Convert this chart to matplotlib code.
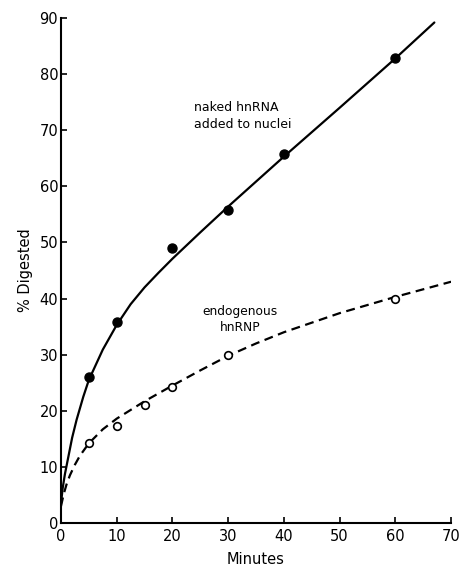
import matplotlib
matplotlib.use("Agg")
import matplotlib.pyplot as plt

# measured points
naked_t = [5, 10, 20, 30, 40, 60]
naked_pct = [26, 35.8, 49, 55.7, 65.8, 82.8]
endo_t = [5, 10, 15, 20, 30, 60]
endo_pct = [14.2, 17.3, 21, 24.2, 29.9, 39.9]

# fitted curves as drawn
naked_curve_t = [0, 0.3, 0.7, 1.2, 2, 2.8, 4, 5, 7.5, 10, 12.5, 15, 17.5, 20, 25, 30, 40, 50, 60, 67]
naked_curve_pct = [3.5, 6.2, 8.7, 11.2, 15.2, 18.4, 22.5, 25.5, 30.9, 35.3, 39.0, 42.0, 44.6, 47.1, 51.8, 56.4, 65.3, 74, 82.8, 89.2]
endo_curve_t = [0, 0.5, 1, 1.6, 2.5, 3.4, 5, 7.5, 10, 15, 20, 25, 30, 35, 40, 50, 60, 70]
endo_curve_pct = [3.0, 5.2, 6.9, 8.5, 10.4, 12.0, 14.2, 16.7, 18.6, 21.7, 24.5, 27.2, 29.8, 32.0, 34.0, 37.4, 40.3, 43]

x_ticks = [0, 10, 20, 30, 40, 50, 60, 70]
y_ticks = [0, 10, 20, 30, 40, 50, 60, 70, 80, 90]

fig = plt.figure(figsize=(4.6, 5.68), dpi=100)
ax = fig.add_axes([0.1326, 0.0792, 0.848, 0.8891])

ax.plot(naked_curve_t, naked_curve_pct, color='black', lw=1.6, solid_capstyle='round', solid_joinstyle='round')
ax.plot(endo_curve_t, endo_curve_pct, color='black', lw=1.6, dashes=(4, 2.5))
ax.plot(naked_t, naked_pct, 'o', color='black', ms=6.5, zorder=3)
ax.plot(endo_t, endo_pct, 'o', mfc='white', mec='black', mew=1.2, ms=5.5, zorder=3)

ax.set_xlim(0, 70)
ax.set_ylim(0, 90)
ax.set_xticks(x_ticks)
ax.set_yticks(y_ticks)
ax.tick_params(direction='in', length=4, width=1.2, labelsize=10.5, pad=2, colors='black')
ax.tick_params(axis='x', pad=4)
for s in ['top', 'right']:
    ax.spines[s].set_visible(False)
for s in ['left', 'bottom']:
    ax.spines[s].set_linewidth(1.5)

ax.set_xlabel('Minutes', fontsize=10.5, labelpad=6)
ax.set_ylabel('% Digested', fontsize=10.5, labelpad=5)

ax.text(23.8, 72.5, 'naked hnRNA\nadded to nuclei', fontsize=9, ha='left', va='center', linespacing=1.45)
ax.text(32.2, 36.3, 'endogenous\nhnRNP', fontsize=8.8, ha='center', va='center', linespacing=1.35)

fig.savefig('out.png', dpi=100)
